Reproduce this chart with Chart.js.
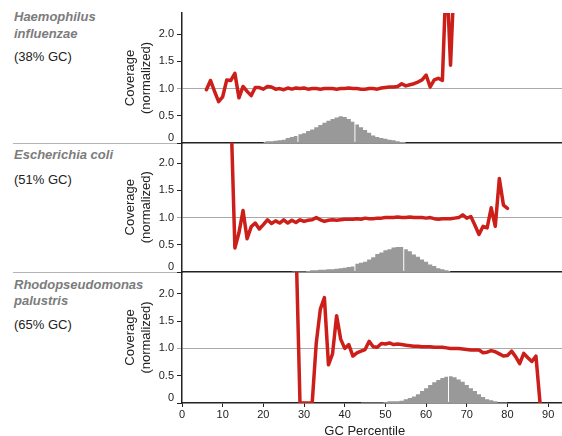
<!DOCTYPE html>
<html>
<head>
<meta charset="utf-8">
<script src="https://cdn.jsdelivr.net/npm/chart.js@4.4.0/dist/chart.umd.min.js"></script>
<style>
  body { margin: 0; width: 562px; height: 436px; overflow: hidden; position: relative; background: #fff;
         font-family: "Liberation Sans", Arial, sans-serif; }
  canvas { position: absolute; left: 0; }
  .name { position: absolute; left: 14px; font-weight: bold; font-style: italic; font-size: 13px;
          line-height: 16.5px; color: #7c7c7c; }
  .gc { position: absolute; left: 14px; font-size: 13px; line-height: 17px; color: #222; }
  .sep { position: absolute; left: 13px; width: 169px; height: 1px; background: #b4b4b4; }
</style>
</head>
<body>
<div class="name" style="top:9px">Haemophilus<br>influenzae</div>
<div class="gc" style="top:47.5px">(38% GC)</div>
<div class="name" style="top:146.5px">Escherichia coli</div>
<div class="gc" style="top:170.5px">(51% GC)</div>
<div class="name" style="top:276.5px">Rhodopseudomonas<br>palustris</div>
<div class="gc" style="top:315.5px">(65% GC)</div>
<div class="sep" style="top:142.5px"></div>
<div class="sep" style="top:271.5px"></div>

<canvas id="hae" width="562" height="144" style="top:0"></canvas>
<canvas id="eco" width="562" height="133" style="top:140px"></canvas>
<canvas id="rpa" width="562" height="177" style="top:262px"></canvas>

<script>
// axis ticks
const gcTicks = [0, 10, 20, 30, 40, 50, 60, 70, 80, 90];
const coverageTicks = [0, 0.5, 1, 1.5, 2];

// Haemophilus influenzae (first point at GC percentile 6)
const haeStart = 6;
const haeCoverage = [0.98, 1.15, 0.95, 0.76, 0.85, 1.16, 1.15, 1.28, 0.83, 1.04,
                     0.95, 0.87, 1.02, 1.02, 0.99, 1.04, 1.03, 0.99, 1.0, 0.98,
                     1.01, 0.99, 1.01, 1.0, 1.01, 0.99, 1.0, 1.0, 0.99, 1.0,
                     1.0, 1.0, 0.99, 1.0, 1.0, 1.01, 1.0, 1.0, 0.99, 0.99,
                     1.0, 1.0, 0.99, 1.01, 1.02, 1.03, 1.03, 1.04, 1.09, 1.05,
                     1.07, 1.09, 1.12, 1.16, 1.25, 1.03, 1.16, 1.19, 1.15, 3.2,
                     1.43, 3.2];
const haeHistStart = 20;
const haeHist = [0.02, 0.03, 0.03, 0.04, 0.05, 0.06, 0.09, 0.11, 0.13, 0.16,
                 0.18, 0.22, 0.25, 0.29, 0.33, 0.37, 0.41, 0.44, 0.47, 0.49,
                 0.48, 0.44, 0.39, 0.34, 0.29, 0.24, 0.19, 0.14, 0.11, 0.09,
                 0.08, 0.06, 0.05, 0.03, 0.02, 0.02];
const haeSplits = [28.5, 42.5];

// Escherichia coli (first point at GC percentile 12)
const ecoStart = 12;
const ecoCoverage = [3.0, 0.44, 0.72, 1.13, 0.61, 0.83, 0.9, 0.79, 0.87, 0.96,
                     0.89, 0.94, 0.9, 0.96, 0.9, 0.95, 0.91, 0.96, 0.93, 0.95,
                     0.96, 1.0, 0.96, 0.93, 0.95, 0.96, 0.95, 0.96, 0.97, 0.97,
                     0.97, 0.98, 0.97, 0.99, 0.98, 0.98, 0.99, 0.99, 1.0, 1.0,
                     1.0, 1.01, 1.0, 1.0, 1.01, 1.0, 1.0, 1.0, 0.99, 1.0,
                     0.98, 0.97, 0.98, 0.98, 0.98, 0.99, 1.0, 1.05, 0.99, 1.02,
                     0.86, 0.69, 0.84, 0.81, 1.18, 0.84, 1.72, 1.23, 1.17];
const ecoHistStart = 27;
const ecoHist = [0.01, 0.01, 0.01, 0.01, 0.02, 0.03, 0.03, 0.04, 0.04, 0.05,
                 0.05, 0.06, 0.07, 0.08, 0.09, 0.1, 0.15, 0.17, 0.19, 0.23,
                 0.27, 0.33, 0.36, 0.4, 0.42, 0.45, 0.46, 0.46, 0.42, 0.38,
                 0.32, 0.28, 0.23, 0.19, 0.14, 0.11, 0.07, 0.05, 0.03, 0.02];
const ecoSplits = [42.5, 54.5];

// Rhodopseudomonas palustris (first point at GC percentile 28)
const rpaStart = 28;
const rpaCoverage = [3.0, 0, 0, 0, 0, 1.1, 1.72, 1.93, 0.7, 0.9,
                     1.6, 1.17, 1.0, 1.07, 0.86, 0.92, 0.95, 0.98, 1.13, 1.03,
                     1.02, 1.09, 1.08, 1.1, 1.07, 1.08, 1.07, 1.06, 1.05, 1.04,
                     1.04, 1.03, 1.03, 1.03, 1.02, 1.02, 1.02, 1.01, 1.0, 1.0,
                     1.0, 0.99, 0.98, 0.97, 0.97, 0.97, 0.92, 0.93, 0.96, 0.94,
                     0.9, 0.86, 0.87, 0.95, 0.85, 0.72, 0.91, 0.83, 0.76, 0.86,
                     0];
const rpaHistStart = 44;
const rpaHist = [0.01, 0.01, 0.01, 0.01, 0.01, 0.01, 0.02, 0.03, 0.03, 0.03,
                 0.04, 0.07, 0.09, 0.12, 0.16, 0.22, 0.27, 0.33, 0.38, 0.42,
                 0.46, 0.48, 0.49, 0.47, 0.43, 0.39, 0.33, 0.27, 0.22, 0.16,
                 0.11, 0.07, 0.05, 0.03, 0.01, 0.01, 0.01];
const rpaSplits = [65.5];

Chart.defaults.font.family = '"Liberation Sans", Arial, sans-serif';
Chart.defaults.color = '#222';

function points(start, values) {
    return values.map((v, i) => ({x: start + i, y: v}));
}

function panel(id, cfg) {
    const datasets = [
        {
            data: points(cfg.start, cfg.coverage),
            borderColor: '#cc1f1a', borderWidth: 3.5, pointRadius: 0,
            borderJoinStyle: 'round', borderCapStyle: 'round', clip: 0, order: 1
        }
    ];
    cfg.splits.forEach(s => {
        datasets.push({
            data: [{x: s, y: 0.02}, {x: s, y: 0.6}],
            borderColor: '#fff', borderWidth: 1, pointRadius: 0, order: 2
        });
    });
    // histogram: one step per 1-percentile bin
    datasets.push({
        data: points(cfg.histStart, cfg.hist),
        stepped: 'middle', fill: 'origin',
        backgroundColor: '#999', borderWidth: 0, pointRadius: 0, order: 3
    });

    new Chart(document.getElementById(id), {
        type: 'line',
        data: {datasets: datasets},
        options: {
            responsive: false,
            animation: false,
            events: [],
            plugins: {legend: {display: false}, tooltip: {enabled: false}},
            layout: {padding: {left: 123, top: cfg.padTop, right: 0, bottom: 0}},
            scales: {
                x: {
                    type: 'linear', min: 0, max: 93.4, offset: false,
                    afterBuildTicks: s => { s.ticks = gcTicks.map(v => ({value: v})); },
                    afterFit: s => {
                        s.height = cfg.bottom ? 36 : 1;
                        s.paddingLeft = 0; s.paddingRight = 0;
                    },
                    border: {color: '#222', width: 1.5},
                    grid: {display: cfg.bottom, drawOnChartArea: false, tickLength: 4, tickColor: '#222'},
                    ticks: {display: cfg.bottom, font: {size: 11}, padding: 1, maxRotation: 0, autoSkip: false},
                    title: {display: cfg.bottom, text: 'GC Percentile    ', font: {size: 13},
                            padding: {top: 0, bottom: 0}}
                },
                y: {
                    min: 0, max: cfg.yMax,
                    afterBuildTicks: s => { s.ticks = coverageTicks.map(v => ({value: v})); },
                    afterFit: s => {
                        s.width = 59;
                        s.paddingTop = 0; s.paddingBottom = 0;
                    },
                    border: {color: '#222', width: 1.5},
                    grid: {
                        color: c => (c.tick && c.tick.value === 1) ? '#aaa' : 'rgba(0,0,0,0)',
                        tickColor: c => (c.tick && c.tick.value === 1) ? '#aaa' : '#222',
                        tickLength: 5
                    },
                    ticks: {
                        font: {size: 11, lineHeight: 0.9}, padding: 3, autoSkip: false,
                        callback: v => v === 0 ? ['0', ''] : v.toFixed(1)
                    },
                    title: {display: true, text: ['Coverage', '(normalized)'], font: {size: 13},
                            padding: {top: 0, bottom: 0}}
                }
            }
        }
    });
}

panel('hae', {start: haeStart, coverage: haeCoverage, histStart: haeHistStart, hist: haeHist,
              splits: haeSplits, yMax: 2.39, padTop: 13, bottom: false});
panel('eco', {start: ecoStart, coverage: ecoCoverage, histStart: ecoHistStart, hist: ecoHist,
              splits: ecoSplits, yMax: 2.38, padTop: 2.5, bottom: false});
panel('rpa', {start: rpaStart, coverage: rpaCoverage, histStart: rpaHistStart, hist: rpaHist,
              splits: rpaSplits, yMax: 2.4, padTop: 10, bottom: true});
</script>
</body>
</html>
